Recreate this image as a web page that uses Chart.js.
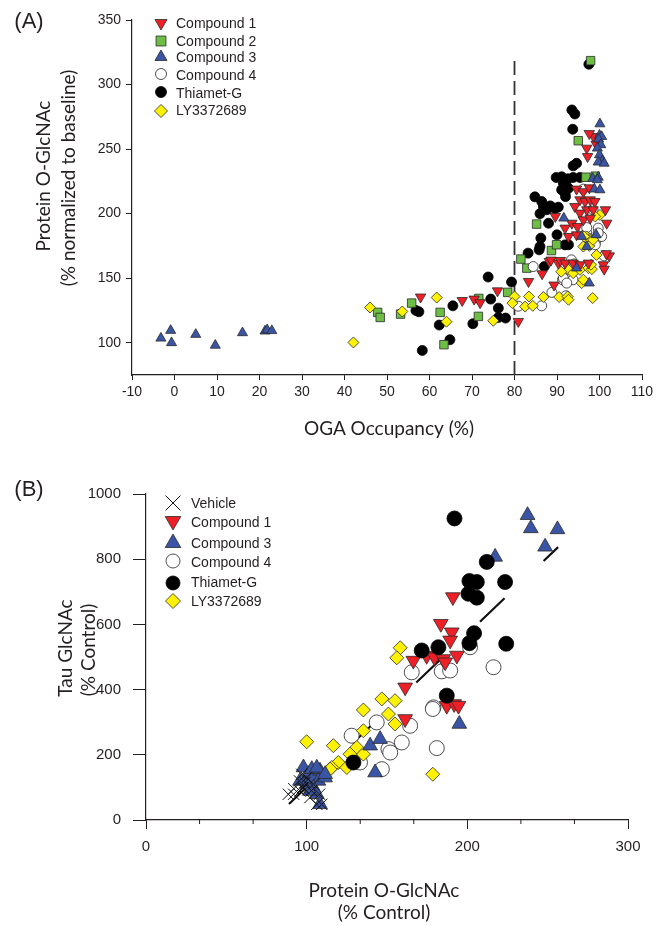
<!DOCTYPE html>
<html>
<head>
<meta charset="utf-8">
<script src="https://cdn.jsdelivr.net/npm/chart.js@4.4.1/dist/chart.umd.min.js"></script>
<style>
  html, body { margin: 0; padding: 0; background: #fff; }
  #wrap { position: relative; width: 668px; height: 926px; }
  #chartA { position: absolute; left: 0; top: 0; }
  #chartB { position: absolute; left: 0; top: 460px; }
</style>
</head>
<body>
<div id="wrap">
  <canvas id="chartA" width="668" height="460"></canvas>
  <canvas id="chartB" width="668" height="466"></canvas>
</div>
<script>
// ============================================================
// DATA — panel A: OGA occupancy (%) vs protein O-GlcNAc (% of baseline)
// ============================================================
const aCompound1 = [[57.9,135.4],[67.7,132.7],[70.5,133.8],[71.9,131],[76,140.2],[80.9,116.5],[83.3,147.4],[86.5,153.4],[89.3,144.7],[88.2,162.9],[88.6,164],[90.3,161.7],[90.8,163.7],[91.9,161.7],[93.8,161.7],[95.4,160.4],[97.4,161.7],[100.9,160.4],[101.1,157],[102.3,167.3],[101.6,169],[89.6,197.8],[91.9,188.8],[92.7,182.3],[94.6,183.6],[93.5,192.6],[94.8,190],[101.7,192.6],[101.4,203],[94.6,219],[96.2,217],[97.6,220],[94.2,205.5],[95.4,210.7],[96.6,209.4],[97.8,210.7],[98.9,209.4],[97,203],[98.5,203],[95.4,200.4],[96.2,195.2],[97.8,196.5],[97,250.7],[97.2,244.2],[98.6,259.7],[99.2,253.8],[97.6,262]];
const aCompound2 = [[47.8,123.5],[48.4,119.6],[53.2,122.2],[55.8,130.7],[62.5,123.5],[63.4,98.5],[71.6,134.3],[71.5,120.4],[78.4,139],[81.5,164.8],[82.9,157.8],[85.2,191.9],[88.7,171.4],[89.9,175.9],[95,256.5],[96.8,228.2],[97.9,318.5],[99,229]];
const aCompound3 = [[-3.2,103.5],[-0.9,109.5],[-0.7,100],[5,106.4],[9.6,98],[16,107.7],[21.3,109],[21.8,110],[22.9,109.3],[100.1,269.5],[100,260.7],[100.5,259.7],[99.8,257.7],[100.3,253.3],[99.5,250.7],[100,245.5],[100.7,240.9],[99.7,239.9],[101.1,239],[98.4,227.2],[99.7,228.2],[99.5,226.2],[98.8,219],[100.1,218.4],[91.6,196.5],[94.6,157.8],[97.6,146.2],[97,174.5],[95.8,182.3],[99.2,183.6]];
const aCompound4 = [[80.9,128.3],[84.4,159],[86.4,128.6],[88.8,139],[91.3,148.8],[93.8,148.8],[93.4,164.2],[94,161],[91.5,150],[92.3,146.2],[92.1,136.4],[96.2,188.8],[97,185],[100.1,182.3],[99,177.2],[98.2,201.6],[97,189.2],[99.7,188.8],[100.5,182.3],[97.4,181],[99,175.9],[101.1,167.3],[99.7,185],[96.2,219],[98.5,203]];
const aThiametG = [[56.8,125],[57.5,124],[58.3,94],[62.3,113.7],[64.8,102.3],[65.5,128.6],[70.2,114.7],[73.8,150.9],[74.4,133.8],[76.2,126.8],[76.2,119.6],[77.9,119.1],[79.3,147],[83.2,169.4],[85.8,172],[86,174.5],[86.2,181],[87,159],[88,192.6],[90,183.6],[91.9,175.8],[92.7,175.9],[84.8,213],[86.4,209.4],[86.8,205.5],[87.6,203],[88.4,206],[89.5,204],[90.3,205],[86,200],[91.5,223.6],[92.7,219.7],[91.1,218.4],[91.9,215.9],[92,213.2],[89.8,228],[91.1,228.5],[92.6,227],[93.8,228],[95.4,228],[94.6,239],[93.8,237],[93.7,265.4],[93.5,280.3],[94.2,277.2],[97.5,315.7]];
const aLY3372689 = [[42.1,100.2],[46,127.3],[53.6,124.2],[61.7,135],[64,116.3],[75,117],[80,135.8],[79.5,130.7],[82.5,128],[83.4,135.8],[86.8,135.4],[84.3,128.6],[90.5,135.4],[92.5,135.8],[92.7,133.3],[98.4,134.6],[99.3,168],[92.7,156.5],[93.8,153.9],[95.4,156.5],[97.4,157.8],[98.2,157],[95.8,146.2],[96.2,148.8],[97,182.3],[97.4,179.7],[100.1,199],[99,197.8],[96.2,174.5],[97.6,175],[96.4,182.3],[98.5,179.7],[98,160.4],[91,155]];
const aRefX = [80, 80];
const aRefY = [75, 320];
const aXTicks = { min: -10, max: 110, step: 10 };
const aYTicks = { min: 75, max: 350, step: 50, first: 100 };

// ============================================================
// DATA — panel B: protein O-GlcNAc (% control) vs tau GlcNAc (% control)
// ============================================================
const bVehicle = [[88.6,79],[91.9,79],[92,96],[95.5,120],[95.9,89],[97.3,99],[98,99],[99,115],[100,130],[102,68.6],[104.2,110],[106.3,48],[103,90],[97,140],[108,79],[109.4,48]];
const bCompound1 = [[191,684],[183.5,602],[190.3,576],[189.3,551],[166.4,489],[174.7,504],[179.5,499.5],[185,494],[186.2,484],[193.5,504.6],[161.3,407],[187.2,350.8],[191.8,356],[194.5,350.8],[161.3,310]];
const bCompound3 = [[98,161],[101,140.5],[104.2,130],[108.3,150.8],[107.3,120],[104.2,99],[106.3,79],[108.3,48],[111.5,130],[100,110],[95.9,120],[102,89],[103.2,156],[106.3,160],[111.5,140.5],[139.5,228],[145.7,248],[142.6,145.5],[195,294.5],[237.5,935],[239.5,894.5],[256.1,891.4],[248.4,838],[217.3,807]];
const bCompound4 = [[165.4,453],[184.1,456],[189.3,458.5],[178.9,345.5],[201.7,530],[216.3,468.6],[178.5,340.6],[181,220.6],[164.4,289],[143.6,299.4],[128,258.5],[159.2,237.8],[150.9,217.5],[146.8,156],[133.2,176.3],[152,207]];
const bThiametG = [[192,925],[212.1,791.7],[201.3,733],[205.9,730],[223.5,730],[200.7,694],[205.9,682],[204.2,573],[201.3,542.5],[224.2,540.6],[182,530],[171.6,520],[187.2,381.5],[129.1,176.3]];
const bLY3372689 = [[158.2,528.3],[156.1,497.5],[146.8,371.4],[155,366],[135.3,337.5],[150.9,325],[155,294.5],[100,240],[116.6,228],[131.2,222.5],[135.3,273.8],[135.3,202],[127,202],[119.7,176.3],[115.6,161],[178.5,140.3],[125,161],[114.6,156]];
const bFitX = [89, 256.5];
const bFitY = [49, 837];
const bXTicks = { min: 0, max: 300, step: 100 };
const bYTicks = { min: 0, max: 1000, step: 200 };

// ============================================================
// STYLE
// ============================================================
const TEXT = '#231f20';
const RED = '#ee1f26';
const GREEN = '#6dbe45';
const BLUE = '#3a55a5';
const YELLOW = '#fff200';
const EDGE = '#2a2a2a';
const TICK_FONT = '"Liberation Sans", Arial, sans-serif';
const TITLE_FONT = 'Lato, "Open Sans", sans-serif';

const pts = (arr) => arr.map(([x, y]) => ({ x, y }));
const line = (xs, ys) => xs.map((x, i) => ({ x, y: ys[i] }));
const plain = (v) => String(v);

function series(label, data, st, r, order) {
  return {
    label,
    data: pts(data),
    pointStyle: st.style,
    rotation: st.rot || 0,
    pointRadius: r,
    pointBackgroundColor: st.fill,
    pointBorderColor: st.stroke || EDGE,
    pointBorderWidth: st.lw || 0.8,
    showLine: false,
    order
  };
}

const S = {
  vehicle: { style: 'crossRot', fill: 'rgba(0,0,0,0)', stroke: '#111', lw: 1 },
  c1: { style: 'triangle', rot: 180, fill: RED },
  c2: { style: 'rect', fill: GREEN },
  c3: { style: 'triangle', fill: BLUE },
  c4: { style: 'circle', fill: '#ffffff', stroke: '#222' },
  tg: { style: 'circle', fill: '#000000', stroke: '#000' },
  ly: { style: 'rectRot', fill: YELLOW }
};

// legend + free text drawn on top of each chart
function overlayPlugin(cfg) {
  return {
    id: 'overlay',
    afterDraw(chart) {
      const ctx = chart.ctx;
      ctx.save();
      cfg.legend.forEach((it, i) => {
        const st = S[it.key];
        ctx.fillStyle = st.fill;
        ctx.strokeStyle = st.stroke || EDGE;
        ctx.lineWidth = st.lw || 0.8;
        Chart.helpers.drawPoint(ctx, {
          pointStyle: st.style, rotation: st.rot || 0, radius: it.r, borderWidth: st.lw || 0.8
        }, cfg.markerX, cfg.rowsY[i] + (it.dy || 0));
        ctx.fillStyle = TEXT;
        ctx.font = cfg.legendFont;
        ctx.textAlign = 'left';
        ctx.textBaseline = 'middle';
        ctx.fillText(it.label, cfg.textX, cfg.rowsY[i]);
      });
      cfg.texts.forEach(t => {
        ctx.save();
        ctx.translate(t.x, t.y);
        if (t.rot) ctx.rotate(t.rot);
        ctx.fillStyle = TEXT;
        ctx.font = t.font;
        ctx.textAlign = 'center';
        ctx.textBaseline = 'middle';
        ctx.fillText(t.text, 0, 0);
        ctx.restore();
      });
      ctx.restore();
    }
  };
}

// small unlabeled ticks between the major x ticks of panel B
const minorTicksPlugin = {
  id: 'minorTicks',
  afterDraw(chart) {
    const sc = chart.scales.x;
    const ctx = chart.ctx;
    ctx.save();
    ctx.strokeStyle = TEXT;
    ctx.lineWidth = 1;
    for (let k = 1; k < 9; k++) {
      if (k % 3 === 0) continue;
      const x = sc.getPixelForValue(k * 100 / 3);
      ctx.beginPath();
      ctx.moveTo(x, sc.top);
      ctx.lineTo(x, sc.top + 4);
      ctx.stroke();
    }
    ctx.restore();
  }
};

// ============================================================
// PANEL A
// ============================================================
new Chart(document.getElementById('chartA'), {
  type: 'scatter',
  data: {
    datasets: [
      { label: 'ref', data: line(aRefX, aRefY), showLine: true, pointRadius: 0,
        borderColor: '#333', borderWidth: 1.8, borderDash: [14, 6], order: 20 },
      series('Thiamet-G', aThiametG, S.tg, 5, 10),
      series('Compound 2', aCompound2, S.c2, 6, 9),
      series('Compound 4', aCompound4, S.c4, 5, 8),
      series('LY3372689', aLY3372689, S.ly, 5.5, 7),
      series('Compound 1', aCompound1, S.c1, 6, 6),
      series('Compound 3', aCompound3, S.c3, 5.8, 5)
    ]
  },
  options: {
    responsive: false,
    animation: false,
    devicePixelRatio: 1,
    layout: { autoPadding: false, padding: { top: 20, right: 26, bottom: 0, left: 0 } },
    plugins: { legend: { display: false }, tooltip: { enabled: false } },
    scales: {
      x: {
        type: 'linear', min: aXTicks.min, max: aXTicks.max,
        afterFit: s => { s.height = 85; },
        ticks: { stepSize: aXTicks.step, callback: plain, color: TEXT, font: { family: TICK_FONT, size: 14 }, padding: 4, maxRotation: 0 },
        grid: { drawOnChartArea: false, tickLength: 5, color: TEXT, tickColor: TEXT },
        border: { display: true, color: TEXT, width: 1.2 }
      },
      y: {
        type: 'linear', min: aYTicks.min, max: aYTicks.max,
        afterFit: s => { s.width = 132; },
        afterBuildTicks: s => { s.ticks = s.ticks.filter(t => t.value >= aYTicks.first); },
        ticks: { stepSize: aYTicks.step, callback: plain, color: TEXT, font: { family: TICK_FONT, size: 14 }, padding: 5 },
        grid: { drawOnChartArea: false, tickLength: 6, color: TEXT, tickColor: TEXT },
        border: { display: true, color: TEXT, width: 1.2 }
      }
    }
  },
  plugins: [overlayPlugin({
    markerX: 161, textX: 176, rowsY: [24, 42, 58, 76, 94, 111],
    legendFont: '14px ' + TICK_FONT,
    legend: [
      { key: 'c1', label: 'Compound 1', r: 7, dy: -1 },
      { key: 'c2', label: 'Compound 2', r: 7, dy: -1 },
      { key: 'c3', label: 'Compound 3', r: 7, dy: -1 },
      { key: 'c4', label: 'Compound 4', r: 5.5, dy: -2 },
      { key: 'tg', label: 'Thiamet-G', r: 5.5, dy: -2 },
      { key: 'ly', label: 'LY3372689', r: 6.5, dy: 0 }
    ],
    texts: [
      { text: '(A)', x: 29, y: 22, font: '22px ' + TICK_FONT },
      { text: 'Protein O-GlcNAc', x: 44, y: 176, rot: -Math.PI / 2, font: '19px ' + TITLE_FONT },
      { text: '(% normalized to baseline)', x: 69, y: 178, rot: -Math.PI / 2, font: '19px ' + TITLE_FONT },
      { text: 'OGA Occupancy (%)', x: 389, y: 429, font: '19px ' + TITLE_FONT }
    ]
  })]
});

// ============================================================
// PANEL B
// ============================================================
new Chart(document.getElementById('chartB'), {
  type: 'scatter',
  data: {
    datasets: [
      { label: 'fit', data: line(bFitX, bFitY), showLine: true, pointRadius: 0,
        borderColor: '#111', borderWidth: 2.2, borderDash: [34, 54], order: 20 },
      series('Compound 4', bCompound4, S.c4, 7.5, 10),
      series('LY3372689', bLY3372689, S.ly, 7, 9),
      series('Compound 1', bCompound1, S.c1, 8.5, 8),
      series('Compound 3', bCompound3, S.c3, 8.5, 7),
      series('Thiamet-G', bThiametG, S.tg, 7.5, 6),
      series('Vehicle', bVehicle, S.vehicle, 8, 5)
    ]
  },
  options: {
    responsive: false,
    animation: false,
    devicePixelRatio: 1,
    layout: { autoPadding: false, padding: { top: 34, right: 40, bottom: 0, left: 0 } },
    plugins: { legend: { display: false }, tooltip: { enabled: false } },
    scales: {
      x: {
        type: 'linear', min: bXTicks.min, max: bXTicks.max,
        afterFit: s => { s.height = 106; },
        ticks: { stepSize: bXTicks.step, callback: plain, color: TEXT, font: { family: TICK_FONT, size: 15 }, padding: 9, maxRotation: 0 },
        grid: { drawOnChartArea: false, tickLength: 9, color: TEXT, tickColor: TEXT },
        border: { display: true, color: TEXT, width: 1.2 }
      },
      y: {
        type: 'linear', min: bYTicks.min, max: bYTicks.max,
        afterFit: s => { s.width = 146; },
        ticks: { stepSize: bYTicks.step, callback: plain, color: TEXT, font: { family: TICK_FONT, size: 15 }, padding: 12 },
        grid: { drawOnChartArea: false, tickLength: 13, color: TEXT, tickColor: TEXT },
        border: { display: true, color: TEXT, width: 1.2 }
      }
    }
  },
  plugins: [minorTicksPlugin, overlayPlugin({
    markerX: 173, textX: 191, rowsY: [44, 63, 84, 103, 123, 142],
    legendFont: '14px ' + TICK_FONT,
    legend: [
      { key: 'vehicle', label: 'Vehicle', r: 10.5, dy: -1 },
      { key: 'c1', label: 'Compound 1', r: 9, dy: -2 },
      { key: 'c3', label: 'Compound 3', r: 9, dy: -1 },
      { key: 'c4', label: 'Compound 4', r: 7, dy: -2 },
      { key: 'tg', label: 'Thiamet-G', r: 7, dy: 0 },
      { key: 'ly', label: 'LY3372689', r: 7.5, dy: -1 }
    ],
    texts: [
      { text: '(B)', x: 29, y: 30, font: '22px ' + TICK_FONT },
      { text: 'Tau GlcNAc', x: 66, y: 188, rot: -Math.PI / 2, font: '19px ' + TITLE_FONT },
      { text: '(% Control)', x: 89, y: 190, rot: -Math.PI / 2, font: '19px ' + TITLE_FONT },
      { text: 'Protein O-GlcNAc', x: 384, y: 431, font: '19px ' + TITLE_FONT },
      { text: '(% Control)', x: 384, y: 453, font: '19px ' + TITLE_FONT }
    ]
  })]
});
</script>
</body>
</html>
